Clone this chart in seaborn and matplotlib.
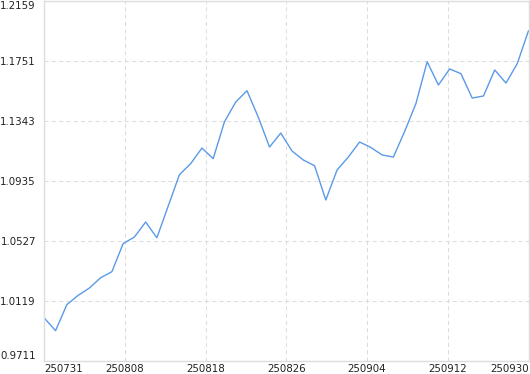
import numpy as np
import pandas as pd
import matplotlib
matplotlib.use("Agg")
import matplotlib.pyplot as plt
import seaborn as sns

values = [1.0003, 0.9917, 1.0094, 1.0157, 1.0207, 1.0277, 1.0318, 1.0509, 1.0554, 1.0656,
          1.0549, 1.0764, 1.0978, 1.1053, 1.1159, 1.1087, 1.1338, 1.1472, 1.1549, 1.1370,
          1.1166, 1.1261, 1.1139, 1.1078, 1.1039, 1.0806, 1.1010, 1.1098, 1.1200, 1.1163,
          1.1112, 1.1098, 1.1272, 1.1461, 1.1746, 1.1588, 1.1697, 1.1665, 1.1499, 1.1513,
          1.1690, 1.1601, 1.1733, 1.1957]
x_labels = ["250731", "250808", "250818", "250826", "250904", "250912", "250930"]
y_ticks = [0.9711, 1.0119, 1.0527, 1.0935, 1.1343, 1.1751, 1.2159]

df = pd.DataFrame({"i": np.arange(len(values)), "v": values})

sns.set_style("white")
plt.rcParams["font.family"] = ["DejaVu Sans"]

fig = plt.figure(figsize=(5.30, 3.74), dpi=100)
ax = fig.add_axes([44.3 / 530, 13 / 374, (528.5 - 44.3) / 530, 360 / 374])

sns.lineplot(data=df, x="i", y="v", ax=ax, color="#5a9ae6", linewidth=1.0)

n = len(values) - 1
ax.set_xlim(0, n)
ax.set_ylim(y_ticks[0], y_ticks[-1])
ax.set_xticks(np.linspace(0, n, len(x_labels)))
ax.set_xticklabels(x_labels)
ax.set_yticks(y_ticks)
ax.set_yticklabels([f"{t:.4f}" for t in y_ticks])
ax.set_xlabel("")
ax.set_ylabel("")

ax.grid(True, color="#dddddd", linestyle=(0, (4, 3)), linewidth=0.75)
ax.set_axisbelow(True)
for s in ax.spines.values():
    s.set_color("#dddddd")
    s.set_linewidth(1.0)
    s.set_visible(True)

ax.tick_params(axis="both", length=0, labelsize=7.4, colors="#222222")
ax.tick_params(axis="x", pad=2)
ax.tick_params(axis="y", pad=6)

xl = ax.get_xticklabels()
xl[0].set_ha("left")
xl[-1].set_ha("right")
yl = ax.get_yticklabels()
yl[0].set_va("bottom")
yl[-1].set_va("top")

fig.savefig("out.png", dpi=100)
